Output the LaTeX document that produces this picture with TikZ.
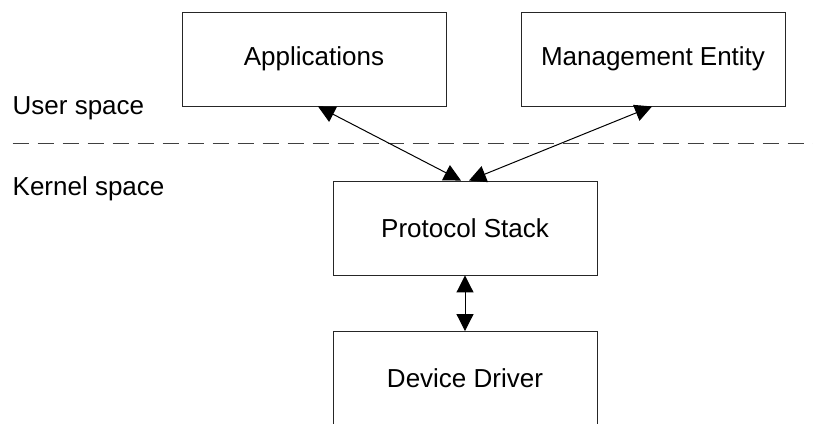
\documentclass[tikz,border=0pt]{standalone}
\usepackage{fontspec}
\setmainfont{Liberation Sans}
\usetikzlibrary{arrows.meta}
\begin{document}
\begin{tikzpicture}[x=1pt,y=-1pt,
  box/.style={draw=black!85,line width=0.9pt,minimum width=264pt,minimum height=94pt,inner sep=0pt,
    font=\fontsize{26}{31}\selectfont},
  lbl/.style={anchor=base west,inner sep=0pt,font=\fontsize{26}{31}\selectfont},
  conn/.style={line width=1pt,{Triangle[length=17pt,width=17pt]}-{Triangle[length=17pt,width=17pt]}}]
\useasboundingbox (0,0) rectangle (813,423);
\clip (0,0) rectangle (813,423);
\node[box] (app) at (314,59) {Applications};
\node[box] (me) at (653,59) {Management Entity};
\node[box] (ps) at (465,228) {Protocol Stack};
\node[box] (dd) at (465,378.5) {Device Driver};
\node[lbl] (us) at (12.5,114) {User space};
\node[lbl] (ks) at (12.5,195.5) {Kernel space};
\coordinate (dl) at (12.5,143);
\coordinate (dr) at (813,143);
\draw[black!75,line width=1pt,dash pattern=on 16pt off 9pt] (dl) -- (dr);
\draw[conn] ([xshift=4pt]app.south) -- ([xshift=-4pt]ps.north);
\draw[conn] ([xshift=-1pt]me.south) -- ([xshift=4pt]ps.north);
\draw[conn] (ps.south) -- (dd.north);
\end{tikzpicture}
\end{document}
